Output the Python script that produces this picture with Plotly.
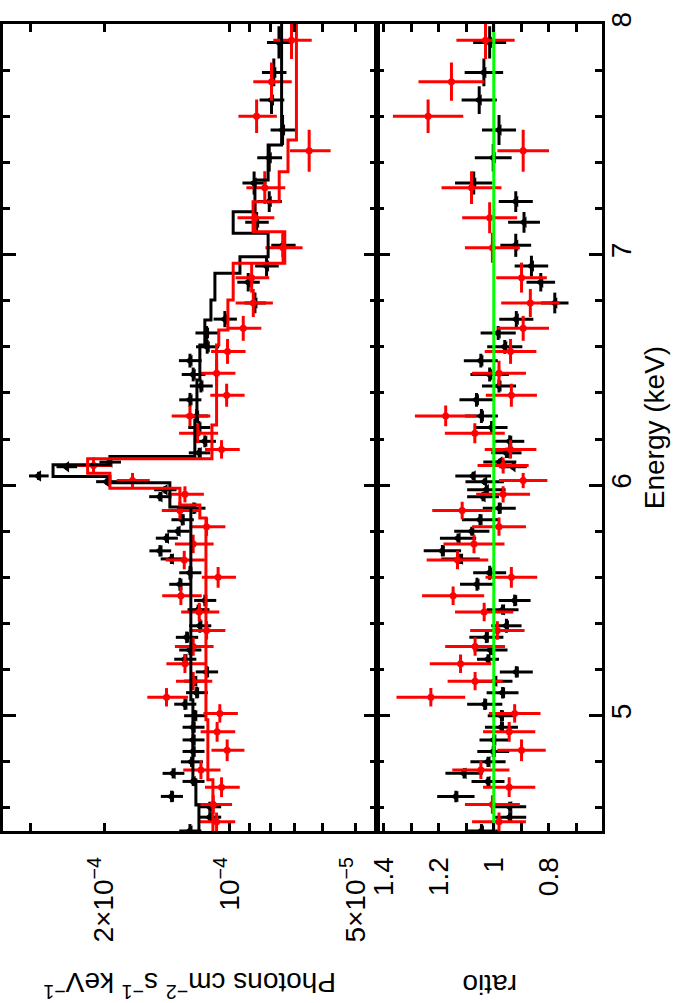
import plotly.graph_objects as go

# ---- data ----
# black spectrum (energy keV, half bin width, flux, flux err, ratio, ratio err)
black_energy = [7.92, 7.79, 7.67, 7.54, 7.42, 7.31, 7.23, 7.14, 7.04, 6.95, 6.88, 6.79, 6.72, 6.66, 6.60,
                6.54, 6.48, 6.43, 6.37, 6.30, 6.25, 6.19, 6.14, 6.10, 6.08, 6.04, 6.015, 5.98, 5.95, 5.90,
                5.85, 5.80, 5.77, 5.715, 5.68, 5.62, 5.57, 5.50, 5.46, 5.39, 5.34, 5.285, 5.245, 5.19, 5.15,
                5.10, 5.05, 5.00, 4.95, 4.895, 4.845, 4.80, 4.75, 4.715, 4.65, 4.605, 4.56, 4.50]
black_ebin = [0.07, 0.06, 0.06, 0.065, 0.06, 0.05, 0.045, 0.045, 0.05, 0.045, 0.04, 0.045, 0.035, 0.03, 0.03,
              0.03, 0.03, 0.028, 0.03, 0.03, 0.028, 0.026, 0.022, 0.015, 0.013, 0.018, 0.014, 0.016, 0.02, 0.025,
              0.025, 0.02, 0.02, 0.025, 0.022, 0.03, 0.028, 0.025, 0.022, 0.03, 0.025, 0.022, 0.022, 0.025, 0.022,
              0.025, 0.025, 0.025, 0.025, 0.025, 0.025, 0.022, 0.022, 0.02, 0.025, 0.022, 0.022, 0.03]
black_flux = [7.63e-5, 7.85e-5, 7.95e-5, 7.48e-5, 8.05e-5, 8.75e-5, 8.05e-5, 8.63e-5, 7.46e-5, 8.17e-5,
              9.04e-5, 8.71e-5, 1.028e-4, 1.137e-4, 1.133e-4, 1.246e-4, 1.224e-4, 1.173e-4, 1.246e-4, 1.201e-4,
              1.186e-4, 1.148e-4, 1.184e-4, 1.937e-4, 2.46e-4, 2.87e-4, 1.97e-4, 1.43e-4, 1.47e-4, 1.22e-4,
              1.30e-4, 1.33e-4, 1.418e-4, 1.47e-4, 1.38e-4, 1.246e-4, 1.317e-4, 1.148e-4, 1.191e-4, 1.18e-4,
              1.269e-4, 1.246e-4, 1.281e-4, 1.137e-4, 1.213e-4, 1.201e-4, 1.281e-4, 1.213e-4, 1.224e-4, 1.224e-4,
              1.224e-4, 1.235e-4, 1.367e-4, 1.224e-4, 1.379e-4, 1.117e-4, 1.117e-4, 1.246e-4]
black_ferr = [0.52e-5, 0.53e-5, 0.54e-5, 0.51e-5, 0.55e-5, 0.58e-5, 0.54e-5, 0.56e-5, 0.50e-5, 0.53e-5,
              0.56e-5, 0.52e-5, 0.66e-5, 0.72e-5, 0.72e-5, 0.78e-5, 0.80e-5, 0.74e-5, 0.76e-5, 0.74e-5,
              0.72e-5, 0.68e-5, 0.70e-5, 1.15e-5, 1.40e-5, 1.55e-5, 1.20e-5, 0.88e-5, 0.90e-5, 0.76e-5,
              0.80e-5, 0.82e-5, 0.86e-5, 0.88e-5, 0.84e-5, 0.76e-5, 0.80e-5, 0.70e-5, 0.72e-5, 0.72e-5,
              0.78e-5, 0.76e-5, 0.78e-5, 0.70e-5, 0.74e-5, 0.72e-5, 0.78e-5, 0.74e-5, 0.74e-5, 0.74e-5,
              0.74e-5, 0.75e-5, 0.82e-5, 0.74e-5, 0.84e-5, 0.68e-5, 0.68e-5, 0.76e-5]
black_ratio = [1.015, 1.036, 1.053, 0.981, 1.002, 1.073, 0.92, 0.89, 0.92, 0.863, 0.829, 0.778, 0.918, 0.984,
               0.96, 1.047, 1.015, 0.981, 1.063, 1.045, 1.008, 0.942, 0.954, 0.978, 0.93, 1.075, 1.033, 1.027,
               1.039, 0.98, 1.05, 1.08, 1.13, 1.187, 1.121, 1.015, 1.061, 0.924, 0.968, 0.954, 1.027, 1.012,
               1.021, 0.918, 0.996, 0.968, 1.033, 0.972, 0.972, 1.0, 1.002, 1.021, 1.108, 1.021, 1.138, 0.942,
               0.942, 1.045]
black_rerr = [0.06, 0.07, 0.064, 0.062, 0.067, 0.068, 0.062, 0.058, 0.056, 0.061, 0.052, 0.05, 0.062, 0.064,
              0.064, 0.062, 0.07, 0.062, 0.062, 0.06, 0.058, 0.053, 0.055, 0.06, 0.05, 0.065, 0.07, 0.07,
              0.058, 0.06, 0.066, 0.064, 0.066, 0.068, 0.07, 0.06, 0.062, 0.058, 0.058, 0.055, 0.062, 0.062,
              0.04, 0.06, 0.064, 0.058, 0.064, 0.05, 0.06, 0.052, 0.058, 0.064, 0.068, 0.06, 0.068, 0.06,
              0.06, 0.06]

# red spectrum
red_energy = [7.93, 7.75, 7.60, 7.45, 7.29, 7.16, 7.03, 6.90, 6.79, 6.68, 6.58, 6.485, 6.39, 6.30, 6.225,
              6.155, 6.085, 6.02, 5.96, 5.89, 5.82, 5.745, 5.675, 5.60, 5.52, 5.45, 5.37, 5.30, 5.225, 5.15,
              5.08, 5.01, 4.93, 4.85, 4.765, 4.69, 4.615, 4.54]
red_ebin = [0.082, 0.083, 0.073, 0.091, 0.071, 0.067, 0.065, 0.065, 0.061, 0.054, 0.054, 0.054, 0.05, 0.045,
            0.043, 0.04, 0.035, 0.033, 0.035, 0.038, 0.04, 0.04, 0.04, 0.045, 0.04, 0.04, 0.04, 0.04, 0.04,
            0.04, 0.04, 0.04, 0.043, 0.047, 0.04, 0.043, 0.04, 0.04]
red_flux = [7.12e-5, 7.95e-5, 8.63e-5, 6.46e-5, 8.25e-5, 8.71e-5, 7.46e-5, 8.87e-5, 8.79e-5, 9.29e-5,
            1.013e-4, 1.076e-4, 1.018e-4, 1.246e-4, 1.195e-4, 1.047e-4, 2.12e-4, 1.71e-4, 1.281e-4, 1.317e-4,
            1.137e-4, 1.224e-4, 1.286e-4, 1.067e-4, 1.31e-4, 1.184e-4, 1.137e-4, 1.224e-4, 1.281e-4, 1.224e-4,
            1.418e-4, 1.057e-4, 1.073e-4, 1.015e-4, 1.173e-4, 1.047e-4, 1.096e-4, 1.076e-4]
red_ferr = [0.75e-5, 0.84e-5, 0.91e-5, 0.72e-5, 0.88e-5, 0.88e-5, 0.76e-5, 0.82e-5, 0.90e-5, 0.88e-5,
            0.96e-5, 1.06e-5, 0.96e-5, 1.32e-5, 1.28e-5, 1.0e-5, 2.0e-5, 1.55e-5, 1.27e-5, 1.38e-5,
            1.12e-5, 1.30e-5, 1.38e-5, 1.0e-5, 1.42e-5, 1.24e-5, 1.12e-5, 1.30e-5, 1.38e-5, 1.22e-5,
            1.58e-5, 1.0e-5, 1.02e-5, 0.92e-5, 1.20e-5, 1.0e-5, 1.08e-5, 1.05e-5]
red_ratio = [1.030, 1.154, 1.239, 0.893, 1.081, 1.015, 1.005, 0.899, 0.867, 0.893, 0.939, 0.981, 0.936,
             1.175, 1.069, 0.939, 0.966, 0.893, 0.966, 1.115, 0.981, 1.072, 1.132, 0.936, 1.148, 1.035,
             0.987, 1.068, 1.121, 1.068, 1.229, 0.924, 0.944, 0.899, 1.047, 0.944, 1.005, 0.981]
red_rerr = [0.106, 0.12, 0.128, 0.094, 0.109, 0.10, 0.10, 0.092, 0.106, 0.094, 0.094, 0.098, 0.093, 0.112,
            0.109, 0.094, 0.093, 0.088, 0.098, 0.109, 0.098, 0.111, 0.112, 0.094, 0.113, 0.106, 0.099, 0.109,
            0.112, 0.10, 0.125, 0.094, 0.095, 0.088, 0.104, 0.095, 0.10, 0.098]

# folded models (bin edges in keV, value per bin)
black_model_edges = [8.0, 7.475, 7.323, 7.186, 7.092, 6.991, 6.919, 6.803, 6.716, 6.608, 6.456, 6.283,
                     6.124, 6.088, 6.037, 6.010, 5.905, 5.069, 4.722, 4.613, 4.50]
black_model = [7.52e-5, 8.10e-5, 8.71e-5, 9.82e-5, 8.10e-5, 9.46e-5, 1.086e-4, 1.110e-4, 1.148e-4, 1.18e-4,
               1.199e-4, 1.213e-4, 1.937e-4, 2.65e-4, 1.937e-4, 1.392e-4, 1.240e-4, 1.226e-4, 1.206e-4,
               1.186e-4]
red_model_edges = [8.0, 7.497, 7.359, 7.229, 7.099, 6.962, 6.803, 6.673, 6.608, 6.261, 6.114, 6.052, 5.987,
                   5.914, 5.858, 4.982, 4.722, 4.50]
red_model = [6.93e-5, 7.26e-5, 7.62e-5, 8.80e-5, 7.39e-5, 9.82e-5, 1.011e-4, 1.063e-4, 1.076e-4, 1.104e-4,
             2.19e-4, 1.937e-4, 1.317e-4, 1.18e-4, 1.141e-4, 1.129e-4, 1.098e-4]

ratio_unity = 1.0
energy_range = [4.5, 8.0]

flux_ticks = [2e-4, 1e-4, 5e-5]
flux_ticktext = ["2×10<sup>−4</sup>", "10<sup>−4</sup>", "5×10<sup>−5</sup>"]
flux_minor = [3e-4, 9e-5, 8e-5, 7e-5, 6e-5]
ratio_ticks = [1.4, 1.2, 1.0, 0.8]
ratio_ticktext = ["1.4", "1.2", "1", "0.8"]
ratio_minor = [1.3, 1.1, 0.9, 0.7]


def steps(edges, values):
    xs, ys = [], []
    for i, v in enumerate(values):
        xs += [v, v]
        ys += [edges[i], edges[i + 1]]
    return xs, ys


FONT = "Liberation Sans, Arial, Helvetica, sans-serif"
fig = go.Figure()


def data_trace(x, xerr, y, yerr, color, symbol, size, xa, ya):
    return go.Scatter(
        x=x, y=y, mode="markers", xaxis=xa, yaxis=ya,
        marker=dict(color=color, symbol=symbol, size=size, line=dict(width=0)),
        error_x=dict(type="data", array=xerr, width=0, thickness=3, color=color),
        error_y=dict(type="data", array=yerr, width=0, thickness=3, color=color),
        showlegend=False, hoverinfo="skip",
    )


fig.add_trace(data_trace(black_flux, black_ferr, black_energy, black_ebin, "black", "triangle-left", 10, "x", "y"))
fig.add_trace(data_trace(red_flux, red_ferr, red_energy, red_ebin, "red", "circle", 7, "x", "y"))
bx, by = steps(black_model_edges, black_model)
fig.add_trace(go.Scatter(x=bx, y=by, mode="lines", line=dict(color="black", width=3), showlegend=False,
                         xaxis="x", yaxis="y", hoverinfo="skip"))
rx, ry = steps(red_model_edges, red_model)
fig.add_trace(go.Scatter(x=rx, y=ry, mode="lines", line=dict(color="red", width=3), showlegend=False,
                         xaxis="x", yaxis="y", hoverinfo="skip"))

fig.add_trace(data_trace(black_ratio, black_rerr, black_energy, black_ebin, "black", "triangle-left", 10, "x2", "y2"))
fig.add_trace(data_trace(red_ratio, red_rerr, red_energy, red_ebin, "red", "circle", 7, "x2", "y2"))
fig.add_trace(go.Scatter(x=[ratio_unity, ratio_unity], y=energy_range, mode="lines",
                         line=dict(color="#00ff00", width=3), showlegend=False,
                         xaxis="x2", yaxis="y2", hoverinfo="skip"))

axis_common = dict(showline=True, linewidth=3, linecolor="black", mirror="allticks", ticks="inside",
                   tickcolor="black", tickwidth=2.5, showgrid=False, zeroline=False, automargin=False,
                   tickfont=dict(family=FONT, size=28, color="black"))

fig.update_layout(
    width=678, height=1003,
    margin=dict(l=3, r=76, t=24, b=172),
    paper_bgcolor="white", plot_bgcolor="white",
    font=dict(family=FONT, color="black"),
    xaxis=dict(domain=[0, 0.625], type="log", range=[-3.457, -4.353], anchor="y",
               tickmode="array", tickvals=flux_ticks, ticktext=flux_ticktext, tickangle=-90, ticklen=8,
               ticklabelstandoff=12,
               minor=dict(tickmode="array", tickvals=flux_minor, ticks="inside", ticklen=8, tickwidth=2.5,
                          tickcolor="black"),
               **axis_common),
    xaxis2=dict(domain=[0.625, 1], range=[1.4236, 0.6062], anchor="y2",
                tickmode="array", tickvals=ratio_ticks, ticktext=ratio_ticktext, tickangle=-90, ticklen=8,
                ticklabelstandoff=12,
                minor=dict(tickmode="array", tickvals=ratio_minor, ticks="inside", ticklen=8, tickwidth=2.5,
                           tickcolor="black"),
                **axis_common),
    yaxis=dict(domain=[0, 1], range=energy_range, anchor="x", tick0=0, dtick=1, ticklen=13,
               showticklabels=False,
               minor=dict(dtick=0.2, ticks="inside", ticklen=7, tickwidth=2.5, tickcolor="black"),
               **axis_common),
    yaxis2=dict(domain=[0, 1], range=energy_range, anchor="x2", side="right", matches="y", tick0=0, dtick=1,
                ticklen=13, tickangle=-90, ticklabelstandoff=-8,
                minor=dict(dtick=0.2, ticks="inside", ticklen=7, tickwidth=2.5, tickcolor="black"),
                **axis_common),
)

fig.add_annotation(text="Photons cm<sup>−2</sup> s<sup>−1</sup> keV<sup>−1</sup>", textangle=180,
                   xref="paper", yref="paper", x=0.3122, y=-0.19, xanchor="center", yanchor="middle",
                   showarrow=False, font=dict(family=FONT, size=28, color="black"))
fig.add_annotation(text="ratio", textangle=180,
                   xref="paper", yref="paper", x=0.813, y=-0.19, xanchor="center", yanchor="middle",
                   showarrow=False, font=dict(family=FONT, size=28, color="black"))
fig.add_annotation(text="Energy (keV)", textangle=-90,
                   xref="paper", yref="paper", x=1.088, y=0.5, xanchor="center", yanchor="middle",
                   showarrow=False, font=dict(family=FONT, size=28, color="black"))

# the page body has a default 8px margin; remove it so the figure sits at the window origin
fig.write_html("out.html", config={"displayModeBar": False},
               post_script="document.body.style.margin='0px';")
